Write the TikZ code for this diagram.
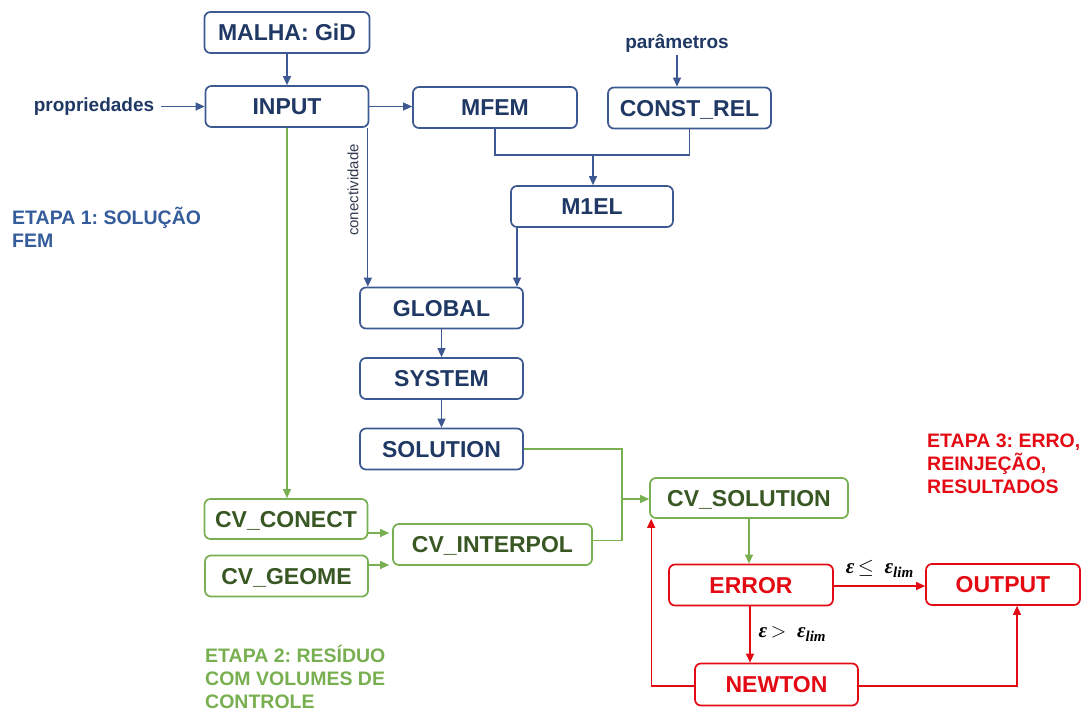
\documentclass[tikz,border=0pt]{standalone}
\usepackage{fontspec}
\setmainfont{Liberation Sans}
\newfontfamily\condfont{Liberation Serif}
\usetikzlibrary{arrows.meta,calc}
\definecolor{navy}{RGB}{31,56,100}
\definecolor{bblue}{RGB}{60,90,145}
\definecolor{etblue}{RGB}{52,92,155}
\definecolor{gtext}{RGB}{56,87,35}
\definecolor{gline}{RGB}{120,175,80}
\definecolor{rline}{RGB}{228,10,20}
\definecolor{ctext}{RGB}{50,60,80}
\newcommand{\epslim}{\textit{ε}{\fontsize{15}{15}\selectfont\raisebox{-4pt}{\textit{lim}}}}
\frenchspacing
\begin{document}
\begin{tikzpicture}[x=1pt,y=-1pt,
  box/.style={draw, rounded corners=6pt, line width=1.7pt, minimum height=41pt,
    inner sep=0pt, text height=16.5pt, text depth=0pt,
    font=\fontsize{23}{27}\selectfont\bfseries},
  bluebox/.style={box, draw=bblue, text=navy},
  greenbox/.style={box, draw=gline, text=gtext},
  redbox/.style={box, draw=rline, text=rline},
  arr/.style={-{Triangle[length=9pt,width=8pt]}, line width=1.2pt},
  barr/.style={arr, draw=bblue},
  garr/.style={arr, draw=gline},
  rarr/.style={arr, draw=rline},
  etapa/.style={anchor=north west, align=left, inner sep=0pt,
    font=\fontsize{19.5}{23}\selectfont\bfseries},
  side/.style={inner sep=5pt, text=navy, font=\fontsize{19}{22}\selectfont\bfseries},
  cond/.style={inner sep=0pt, text=black, font=\condfont\fontsize{21}{24}\selectfont\bfseries}
]
\useasboundingbox (0,0) rectangle (1083,711);

% blue boxes
\node[bluebox, minimum width=165pt] (malha) at (287,32.5) {MALHA: GiD};
\node[bluebox, minimum width=163pt] (input) at (287,106.5) {INPUT};
\node[bluebox, minimum width=164pt] (mfem) at (495,107.5) {MFEM};
\node[bluebox, minimum width=163pt] (crel) at (689.5,108) {CONST\_REL};
\node[bluebox, minimum width=162pt] (m1el) at (592,206.5) {M1EL};
\node[bluebox, minimum width=163pt] (global) at (441.5,308) {GLOBAL};
\node[bluebox, minimum width=163pt] (system) at (441.5,378.5) {SYSTEM};
\node[bluebox, minimum width=163pt] (solution) at (441.5,449) {SOLUTION};

% green boxes
\node[greenbox, minimum width=163pt, minimum height=40pt] (cvconect) at (286,519) {CV\_CONECT};
\node[greenbox, minimum width=163pt] (cvgeome) at (286.5,576) {CV\_GEOME};
\node[greenbox, minimum width=199pt] (cvinterpol) at (492.5,544.5) {CV\_INTERPOL};
\node[greenbox, minimum width=198pt, minimum height=40pt] (cvsol) at (749,498) {CV\_SOLUTION};

% red boxes
\node[redbox, minimum width=164pt] (error) at (751,585) {ERROR};
\node[redbox, minimum width=154pt] (output) at (1003,584.5) {OUTPUT};
\node[redbox, minimum width=163pt, minimum height=42pt] (newton) at (776.5,684.5) {NEWTON};

% side texts
\node[side, inner sep=7pt] (prop) at (94,106.5) {propriedades};
\node[side, inner sep=3pt] (param) at (677,43) {parâmetros};
\node[rotate=90, inner sep=0pt, text=ctext, font=\fontsize{15}{18}\selectfont] (conect) at (353,190) {conectividade};

% stage labels
\node[etapa, text=etblue] (etapa1) at (12,207) {ETAPA 1: SOLUÇÃO\\FEM};
\node[etapa, text=gline] (etapa2) at (205,645) {ETAPA 2: RESÍDUO\\COM VOLUMES DE\\CONTROLE};
\node[etapa, text=rline] (etapa3) at (927,434) {ETAPA 3: ERRO,\\REINJEÇÃO,\\RESULTADOS};

% blue connectors
\draw[barr] (malha) -- (input);
\draw[barr] (prop.east) -- (prop.east -| input.west);
\draw[barr] (input.east) -- (input.east -| mfem.west);
\draw[barr] (param.south) -- (param.south |- crel.north);
\coordinate (j1) at (593,155);
\draw[line width=1.2pt, draw=bblue] (mfem.south) |- (j1) -| (crel.south);
\draw[barr] (j1) -- (j1 |- m1el.north);
\draw[barr] ([xshift=-1.5pt]input.south east) -- ([xshift=-1.5pt]input.south east |- global.north);
\draw[barr] ([xshift=-75pt]m1el.south) -- ([xshift=-75pt]m1el.south |- global.north);
\draw[barr] (global) -- (system);
\draw[barr] (system) -- (solution);

% green connectors
\draw[garr] (input.south) -- (input.south |- cvconect.north);
\coordinate (j3) at (622,499);
\draw[line width=1.2pt, draw=gline] (solution.east) -| (j3) |- ([yshift=4pt]cvinterpol.east);
\draw[garr] (j3) -- (j3 -| cvsol.west);
\draw[garr, shorten >=3pt] ([yshift=-14pt]cvconect.east) -- ([yshift=-14pt]cvconect.east -| cvinterpol.west);
\draw[garr, shorten >=3pt] ([yshift=11pt]cvgeome.east) -- ([yshift=11pt]cvgeome.east -| cvinterpol.west);
\draw[garr] (cvsol.south) -- (cvsol.south |- error.north);

% red connectors
\draw[rarr] ([yshift=-1pt]error.east) -- ([yshift=-1pt]error.east -| output.west)
  node[cond, pos=0.5, above=8pt] (le) {\textit{ε}\,$\leq$\ \ \epslim};
\draw[rarr] ([xshift=-1pt]error.south) -- ([xshift=-1pt]error.south |- newton.north)
  node[cond, pos=0.5, right=8pt] (lg) {\textit{ε}\,$>$\ \ \epslim};
\draw[rarr] ([yshift=-1.5pt]newton.west) -| ([xshift=2pt]cvsol.south west);
\draw[rarr] ([yshift=-1.5pt]newton.east) -| ([xshift=14pt]output.south);
\end{tikzpicture}
\end{document}
